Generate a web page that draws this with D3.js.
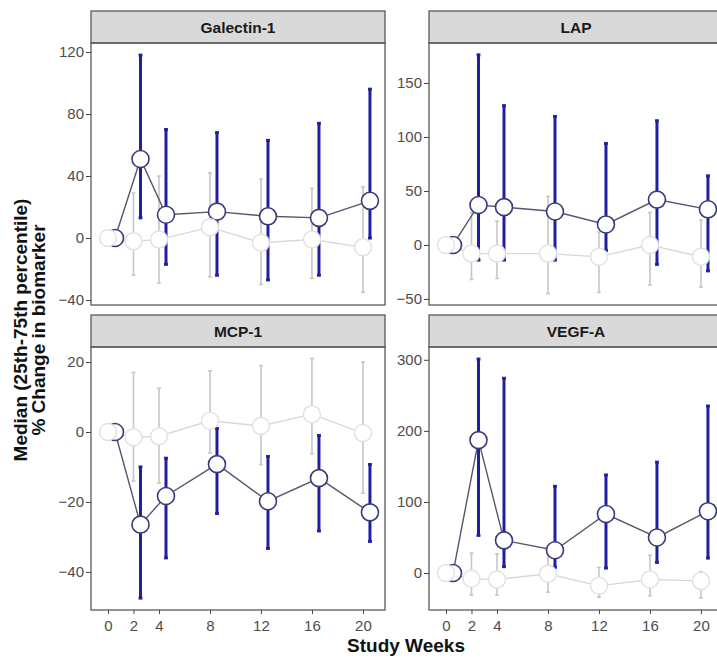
<!DOCTYPE html>
<html>
<head>
<meta charset="utf-8">
<script src="https://cdn.jsdelivr.net/npm/d3@7"></script>
<style>
  body { margin: 0; background: #fff; }
  svg { display: block; font-family: "Liberation Sans", Arial, sans-serif; }
</style>
</head>
<body>
<svg id="chart" width="717" height="658"></svg>
<script>
// study weeks (x)
const weeks = [0, 2, 4, 8, 12, 16, 20];

// Galectin-1
const galBlueMed = [0, 51, 15, 17, 14, 13, 24];
const galBlueLo = [null, 13, -17, -24, -27, -24, 0];
const galBlueHi = [null, 118, 70, 68, 63, 74, 96];
const galGrayMed = [0, -2, -1, 7, -3, -1, -6];
const galGrayLo = [null, -24, -29, -25, -30, -26, -35];
const galGrayHi = [null, 29, 40, 42, 38, 32, 33];

// LAP
const lapBlueMed = [0, 37, 35, 31, 19, 42, 33];
const lapBlueLo = [null, -14, -14, -14, -5, -18, -24];
const lapBlueHi = [null, 176, 129, 119, 94, 115, 64];
const lapGrayMed = [0, -8, -8, -8, -11, 0, -11];
const lapGrayLo = [null, -32, -31, -45, -44, -37, -39];
const lapGrayHi = [null, 30, 22, 45, 12, 30, 23];

// MCP-1
const mcpBlueMed = [0, -26.5, -18.3, -9.2, -19.8, -13.2, -23];
const mcpBlueLo = [null, -47.5, -36, -23.3, -33.3, -28.3, -31.3];
const mcpBlueHi = [null, -10, -7.5, 1, -7, -1, -9.3];
const mcpGrayMed = [0, -1.5, -1.2, 3.2, 1.7, 5.1, -0.3];
const mcpGrayLo = [null, -14, -14.6, -6, -9.3, -6.3, -17.5];
const mcpGrayHi = [null, 17, 12.5, 17.5, 19, 21, 20];

// VEGF-A
const vegBlueMed = [0, 187, 46, 32, 83, 50, 87];
const vegBlueLo = [null, 53, 9, 8, 7, 15, 21];
const vegBlueHi = [null, 301, 274, 122, 138, 156, 235];
const vegGrayMed = [0, -8, -9, -1, -18, -9, -11];
const vegGrayLo = [null, -31, -31, -27, -34, -32, -35];
const vegGrayHi = [null, 28, 27, 30, 8, 25, 2];

// y ticks per panel
const galTicks = [-40, 0, 40, 80, 120];
const lapTicks = [-50, 0, 50, 100, 150];
const mcpTicks = [-40, -20, 0, 20];
const vegTicks = [0, 100, 200, 300];

const panels = [
    {name: "Galectin-1", col: 0, row: 0, domain: [-43.2, 125.8], ticks: galTicks,
     blue: [galBlueMed, galBlueLo, galBlueHi], gray: [galGrayMed, galGrayLo, galGrayHi]},
    {name: "LAP", col: 1, row: 0, domain: [-55.6, 187], ticks: lapTicks,
     blue: [lapBlueMed, lapBlueLo, lapBlueHi], gray: [lapGrayMed, lapGrayLo, lapGrayHi]},
    {name: "MCP-1", col: 0, row: 1, domain: [-50.9, 24.3], ticks: mcpTicks,
     blue: [mcpBlueMed, mcpBlueLo, mcpBlueHi], gray: [mcpGrayMed, mcpGrayLo, mcpGrayHi]},
    {name: "VEGF-A", col: 1, row: 1, domain: [-52, 318], ticks: vegTicks,
     blue: [vegBlueMed, vegBlueLo, vegBlueHi], gray: [vegGrayMed, vegGrayLo, vegGrayHi]}
];

const panelLeft = [91, 429];
const panelW = 294;
const stripTop = [11, 315];
const stripH = 32;
const plotH = [262, 263];
const dodge = 0.55;

const BLUE_BAR = "#1f1fa0";
const BLUE_PT = "#3a3a78";
const BLUE_LINE = "#55556e";
const GRAY_BAR = "#c6c6c6";
const GRAY_LINE = "#d9d9d9";
const GRAY_PT = "#e2e2e2";

const svg = d3.select("#chart");

function toRows(series, shift) {
    return weeks.map((w, i) => ({x: w + shift, med: series[0][i], lo: series[1][i], hi: series[2][i]}));
}

function drawBars(g, x, y, rows, color, width) {
    const bars = rows.filter(d => d.lo != null);
    g.append("g").selectAll("line")
        .data(bars)
        .enter()
        .append("line")
        .attr("x1", d => x(d.x)).attr("x2", d => x(d.x))
        .attr("y1", d => y(d.lo)).attr("y2", d => y(d.hi))
        .attr("stroke", color).attr("stroke-width", width);
    // caps
    ["lo", "hi"].forEach(k => {
        g.append("g").selectAll("line")
            .data(bars)
            .enter()
            .append("line")
            .attr("x1", d => x(d.x - 0.15)).attr("x2", d => x(d.x + 0.15))
            .attr("y1", d => y(d[k])).attr("y2", d => y(d[k]))
            .attr("stroke", color).attr("stroke-width", width);
    });
}

function drawLine(g, x, y, rows, color) {
    g.append("path")
        .datum(rows)
        .attr("fill", "none")
        .attr("stroke", color)
        .attr("stroke-width", 1.4)
        .attr("d", d3.line().x(d => x(d.x)).y(d => y(d.med)));
}

function drawPoints(g, x, y, rows, color, width) {
    g.append("g").selectAll("circle")
        .data(rows)
        .enter()
        .append("circle")
        .attr("cx", d => x(d.x)).attr("cy", d => y(d.med))
        .attr("r", 8.5)
        .attr("fill", "#fff")
        .attr("stroke", color)
        .attr("stroke-width", width);
}

panels.forEach(p => {
    const left = panelLeft[p.col];
    const top = stripTop[p.row] + stripH;
    const h = plotH[p.row];
    const x = d3.scaleLinear().domain([-1.333, 21.73]).range([left, left + panelW]);
    const y = d3.scaleLinear().domain(p.domain).range([top + h, top]);
    const g = svg.append("g");

    // strip
    g.append("rect")
        .attr("x", left).attr("y", stripTop[p.row])
        .attr("width", panelW).attr("height", stripH)
        .attr("fill", "#d9d9d9").attr("stroke", "#5a5a5a").attr("stroke-width", 1.3);
    g.append("text")
        .attr("x", left + panelW / 2).attr("y", stripTop[p.row] + stripH / 2 + 5.5)
        .attr("text-anchor", "middle")
        .attr("font-size", "15.5px").attr("font-weight", "bold").attr("fill", "#1a1a1a")
        .text(p.name);

    const grayRows = toRows(p.gray, 0);
    const blueRows = toRows(p.blue, dodge);

    // layer order like ggplot: error bars, lines, then points
    drawBars(g, x, y, grayRows, GRAY_BAR, 1.6);
    drawBars(g, x, y, blueRows, BLUE_BAR, 3);
    drawLine(g, x, y, grayRows, GRAY_LINE);
    drawLine(g, x, y, blueRows, BLUE_LINE);
    drawPoints(g, x, y, blueRows, BLUE_PT, 1.6);
    drawPoints(g, x, y, grayRows, GRAY_PT, 1.5);

    // panel border
    g.append("rect")
        .attr("x", left).attr("y", top)
        .attr("width", panelW).attr("height", h)
        .attr("fill", "none").attr("stroke", "#5a5a5a").attr("stroke-width", 1.3);

    // y axis
    const yAxis = g.append("g")
        .attr("transform", "translate(" + left + ",0)")
        .call(d3.axisLeft(y).tickValues(p.ticks).tickSize(5).tickPadding(2));
    yAxis.select(".domain").remove();
    yAxis.selectAll("line").attr("stroke", "#444");
    yAxis.selectAll("text").attr("font-size", "15px").attr("fill", "#4d4d4d")
        .attr("font-family", "Liberation Sans, Arial, sans-serif");

    // x axis on bottom row only
    if (p.row === 1) {
        const xAxis = g.append("g")
            .attr("transform", "translate(0," + (top + h) + ")")
            .call(d3.axisBottom(x).tickValues(weeks).tickSize(4).tickPadding(6));
        xAxis.select(".domain").remove();
        xAxis.selectAll("line").attr("stroke", "#444");
        xAxis.selectAll("text").attr("font-size", "15px").attr("fill", "#4d4d4d")
            .attr("font-family", "Liberation Sans, Arial, sans-serif");
    }
});

// axis titles
const yTitle = svg.append("text")
    .attr("transform", "translate(27,330) rotate(-90)")
    .attr("text-anchor", "middle")
    .attr("font-size", "19px").attr("font-weight", "bold").attr("fill", "#111");
yTitle.append("tspan").attr("x", 0).attr("dy", 0).text("Median (25th-75th percentile)");
yTitle.append("tspan").attr("x", 0).attr("dy", 18).text("% Change in biomarker");

svg.append("text")
    .attr("x", 406).attr("y", 652)
    .attr("text-anchor", "middle")
    .attr("font-size", "19px").attr("font-weight", "bold").attr("fill", "#111")
    .text("Study Weeks");
</script>
</body>
</html>
